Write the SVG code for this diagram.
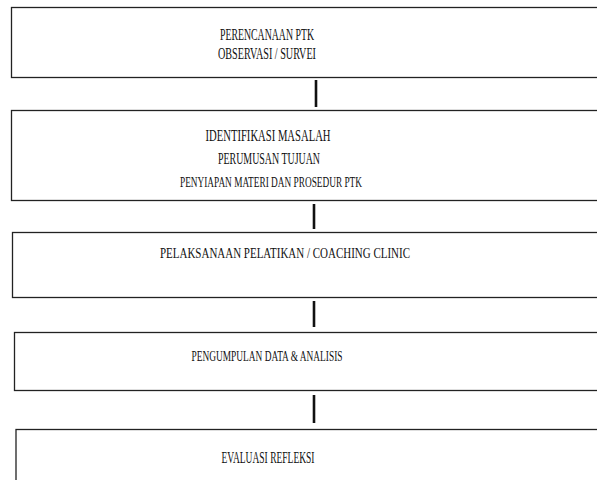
<svg xmlns="http://www.w3.org/2000/svg" width="597" height="480" viewBox="0 0 597 480">
<style>
.box{fill:#fff;stroke:#222;stroke-width:1.3}
.t{font-family:"Liberation Serif","DejaVu Serif",serif;fill:#111;text-anchor:middle}
.l{font-size:16.5px}
.s{font-size:14px}
.c{stroke:#111;stroke-width:2.6;fill:none}
</style>
<rect width="597" height="480" fill="#fff"/>
<g id="connectors">
<line class="c" x1="316" y1="80" x2="316" y2="107"/>
<line class="c" x1="314" y1="204" x2="314" y2="229"/>
<line class="c" x1="314" y1="301" x2="314" y2="327"/>
<line class="c" x1="314" y1="395" x2="314" y2="423"/>
</g>
<g id="n1">
<rect class="box" x="11.5" y="7.5" width="600" height="70"/>
<text class="t l" x="267" y="40" textLength="94" lengthAdjust="spacingAndGlyphs">PERENCANAAN PTK</text>
<text class="t l" x="267" y="59" textLength="98" lengthAdjust="spacingAndGlyphs">OBSERVASI / SURVEI</text>
</g>
<g id="n2">
<rect class="box" x="11.5" y="110.5" width="600" height="90"/>
<text class="t l" x="268" y="141" textLength="125" lengthAdjust="spacingAndGlyphs">IDENTIFIKASI MASALAH</text>
<text class="t l" x="269" y="164" textLength="102" lengthAdjust="spacingAndGlyphs">PERUMUSAN TUJUAN</text>
<text class="t s" x="271" y="187" textLength="182" lengthAdjust="spacingAndGlyphs">PENYIAPAN MATERI DAN PROSEDUR PTK</text>
</g>
<g id="n3">
<rect class="box" x="12.5" y="232.5" width="600" height="65"/>
<text class="t s" x="285" y="258" textLength="250" lengthAdjust="spacingAndGlyphs">PELAKSANAAN PELATIKAN / COACHING CLINIC</text>
</g>
<g id="n4">
<rect class="box" x="14.5" y="332.5" width="600" height="58"/>
<text class="t s" x="267" y="361" textLength="151" lengthAdjust="spacingAndGlyphs">PENGUMPULAN DATA &amp; ANALISIS</text>
</g>
<g id="n5">
<rect class="box" x="16" y="429.5" width="600" height="60"/>
<text class="t l" x="268" y="463" textLength="93" lengthAdjust="spacingAndGlyphs">EVALUASI REFLEKSI</text>
</g>
</svg>
